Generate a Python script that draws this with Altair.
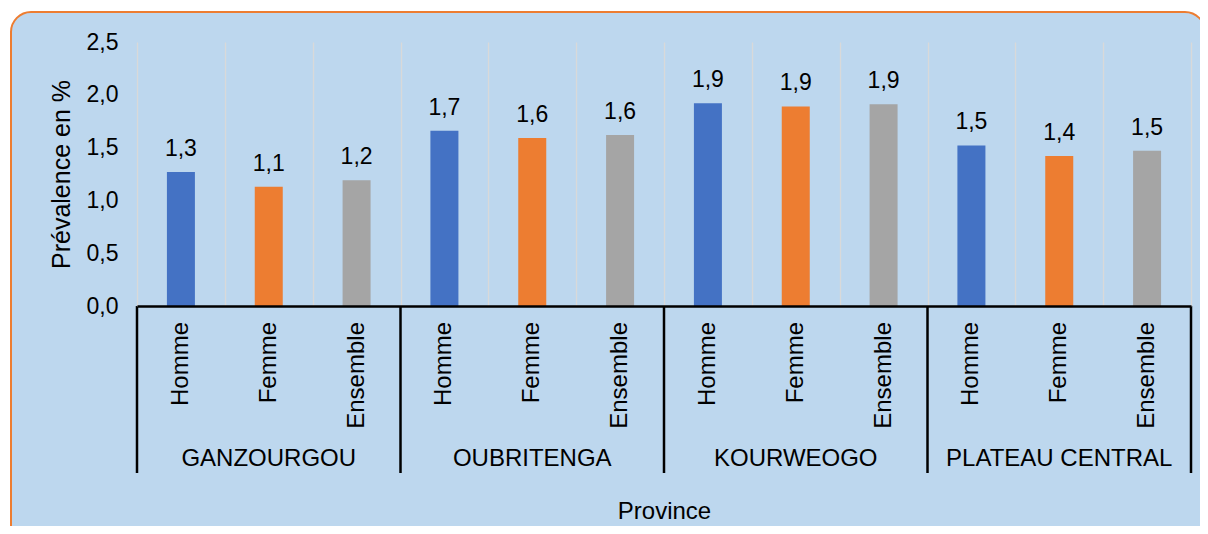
import altair as alt
import pandas as pd

provinces = ["GANZOURGOU", "OUBRITENGA", "KOURWEOGO", "PLATEAU CENTRAL"]
sexes = ["Homme", "Femme", "Ensemble"]
values = [1.27, 1.13, 1.19,
          1.66, 1.59, 1.62,
          1.92, 1.89, 1.91,
          1.52, 1.42, 1.47]
colors = ["#4472C4", "#ED7D31", "#A5A5A5"]
y_ticks = [0, 0.5, 1.0, 1.5, 2.0, 2.5]

FONT = "Liberation Sans"
BG = "#BDD7EE"

rows = []
for i, v in enumerate(values):
    p = provinces[i // 3]
    s = sexes[i % 3]
    rows.append({"pos": i + 0.5, "province": p, "sexe": s, "valeur": v,
                 "label": f"{v:.1f}".replace(".", ",")})
df = pd.DataFrame(rows)

grp = pd.DataFrame({"center": [1.5, 4.5, 7.5, 10.5], "province": provinces})
edges = pd.DataFrame({"edge": [0, 3, 6, 9, 12]})

W, H = 1054, 264

xscale = alt.Scale(domain=[0, 12], nice=False, zero=False, padding=0)
yscale = alt.Scale(domain=[0, 2.5], nice=False)

frame = alt.Chart(pd.DataFrame({"a": [0]})).mark_rect(
    cornerRadius=20, fill=BG, stroke="#ED7D31", strokeWidth=2
).encode(
    x=alt.value(-126), x2=alt.value(1068), y=alt.value(-30), y2=alt.value(620)
)

bars = alt.Chart(df).mark_bar(size=28).encode(
    x=alt.X("pos:Q", scale=xscale,
            axis=alt.Axis(values=list(range(13)), grid=True, gridColor="#D9D9D9",
                          gridWidth=1.3, labels=False, ticks=False, tickSize=0,
                          domain=True, domainColor="#000000", domainWidth=2.5,
                          zindex=1,
                          title="Province", titleFont=FONT, titleFontSize=24,
                          titleFontWeight="normal", titleColor="#000000",
                          titleBaseline="alphabetic", titleY=212)),
    y=alt.Y("valeur:Q", scale=yscale,
            axis=alt.Axis(values=y_ticks, grid=False, ticks=False, tickSize=0,
                          domain=False, labelPadding=19, labelFont=FONT,
                          labelFontSize=23, labelColor="#000000", zindex=1,
                          labelExpr="replace(format(datum.value, '.1f'), '.', ',')",
                          title="Prévalence en %", titleFont=FONT, titleFontSize=25,
                          titleFontWeight="normal", titleColor="#000000",
                          titleX=-76, titleY=H / 2, titleBaseline="middle",
                          titleAlign="center", titleAngle=270)),
    color=alt.Color("sexe:N", scale=alt.Scale(domain=sexes, range=colors), legend=None),
)

value_labels = alt.Chart(df).mark_text(
    font=FONT, fontSize=23, color="#000000", baseline="alphabetic", dy=-16
).encode(x=alt.X("pos:Q", scale=xscale), y=alt.Y("valeur:Q", scale=yscale), text="label:N")

vlines = alt.Chart(edges).mark_rule(color="#000000", strokeWidth=2.5).encode(
    x=alt.X("edge:Q", scale=xscale), y=alt.value(H), y2=alt.value(431)
)

sex_labels = alt.Chart(df).mark_text(
    font=FONT, fontSize=24, color="#000000", angle=270, align="right", baseline="middle"
).encode(x=alt.X("pos:Q", scale=xscale), y=alt.value(280), text="sexe:N")

prov_labels = alt.Chart(grp).mark_text(
    font=FONT, fontSize=24, color="#000000", baseline="alphabetic"
).encode(x=alt.X("center:Q", scale=xscale), y=alt.value(424), text="province:N")

chart = alt.layer(frame, bars, value_labels, vlines, sex_labels, prov_labels).properties(
    width=W, height=H,
    autosize=alt.AutoSizeParams(type="none"),
    padding={"left": 129, "top": 34, "right": 9, "bottom": 220},
    background="white",
).configure_view(stroke=None)

chart.save("out.html", embed_options={"renderer": "svg", "actions": False})
